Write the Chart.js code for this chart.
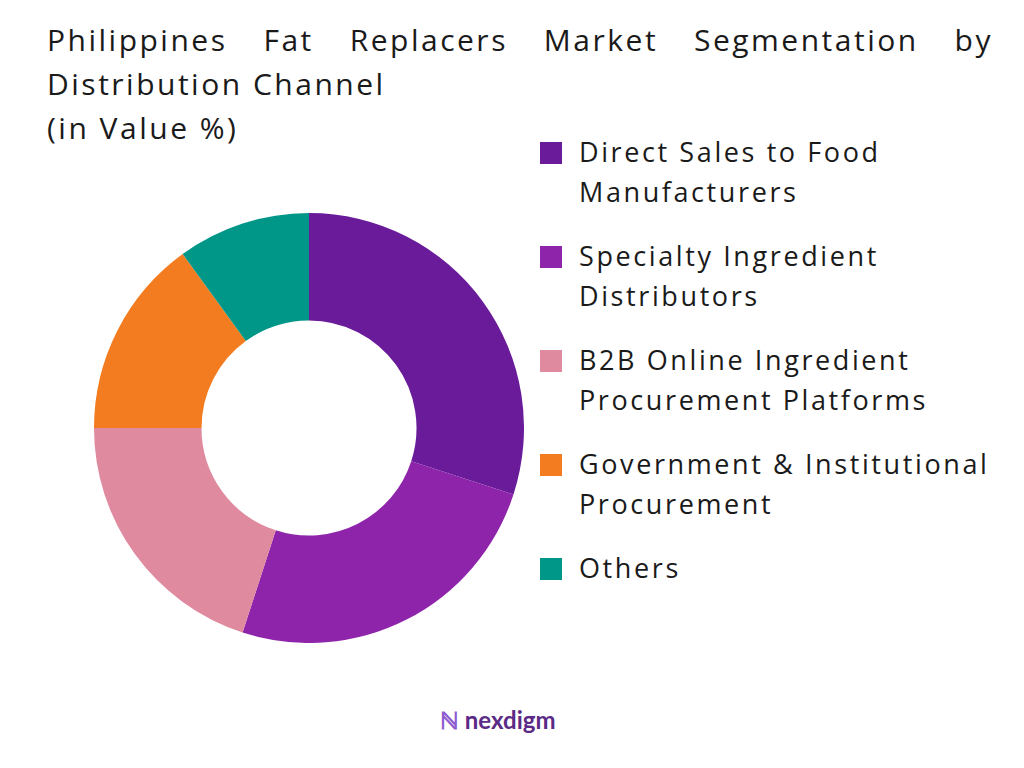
<!DOCTYPE html>
<html>
<head>
<meta charset="utf-8">
<script src="https://cdn.jsdelivr.net/npm/chart.js@4"></script>
<style>
  body { margin: 0; width: 1024px; height: 768px; background: #fff; font-family: "Open Sans", sans-serif; color: #1a1a1a; position: relative; overflow: hidden; }
  #title { position: absolute; left: 47px; top: 18px; width: 946px; font-size: 30px; line-height: 44px; letter-spacing: 2.5px; }
  #title .j { text-align: justify; text-align-last: justify; }
  #chartBox { position: absolute; left: 94px; top: 213px; width: 430px; height: 430px; }
  #legend { position: absolute; left: 540px; top: 132px; width: 480px; }
  .item { display: flex; align-items: flex-start; margin-bottom: 24px; font-size: 27px; line-height: 40px; letter-spacing: 2.6px; }
  .sw { width: 22px; height: 22px; margin-top: 10px; margin-right: 17px; flex: none; }
  #logo { position: absolute; left: 440px; top: 703px; font-size: 24px; font-weight: bold; color: #5b2a86; font-family: "Lato", sans-serif; }
</style>
</head>
<body>
<div id="title"><div class="j">Philippines Fat Replacers Market Segmentation by</div><div>Distribution Channel</div><div>(in Value %)</div></div>
<div id="chartBox"><canvas id="c"></canvas></div>
<div id="legend"></div>
<div id="logo"><span style="color:#8e5bd0">ℕ</span> nexdigm</div>
<script>
const categories = [
  ["Direct Sales to Food", "Manufacturers"],
  ["Specialty Ingredient", "Distributors"],
  ["B2B Online Ingredient", "Procurement Platforms"],
  ["Government & Institutional", "Procurement"],
  ["Others"]
];
const values = [30, 25, 20, 15, 10];
const colors = ["#6A1B9A", "#8E24AA", "#E08AA0", "#F47C20", "#009688"];

const legend = document.getElementById("legend");
categories.forEach((lines, i) => {
  const item = document.createElement("div");
  item.className = "item";
  item.innerHTML = '<div class="sw" style="background:' + colors[i] + '"></div><div>' + lines.join("<br>") + "</div>";
  legend.appendChild(item);
});

new Chart(document.getElementById("c"), {
  type: "doughnut",
  data: {
    labels: categories.map(l => l.join(" ")),
    datasets: [{ data: values, backgroundColor: colors, borderWidth: 0 }]
  },
  options: {
    responsive: true,
    maintainAspectRatio: false,
    animation: false,
    cutout: "50%",
    plugins: { legend: { display: false }, tooltip: { enabled: false } }
  }
});
</script>
</body>
</html>
